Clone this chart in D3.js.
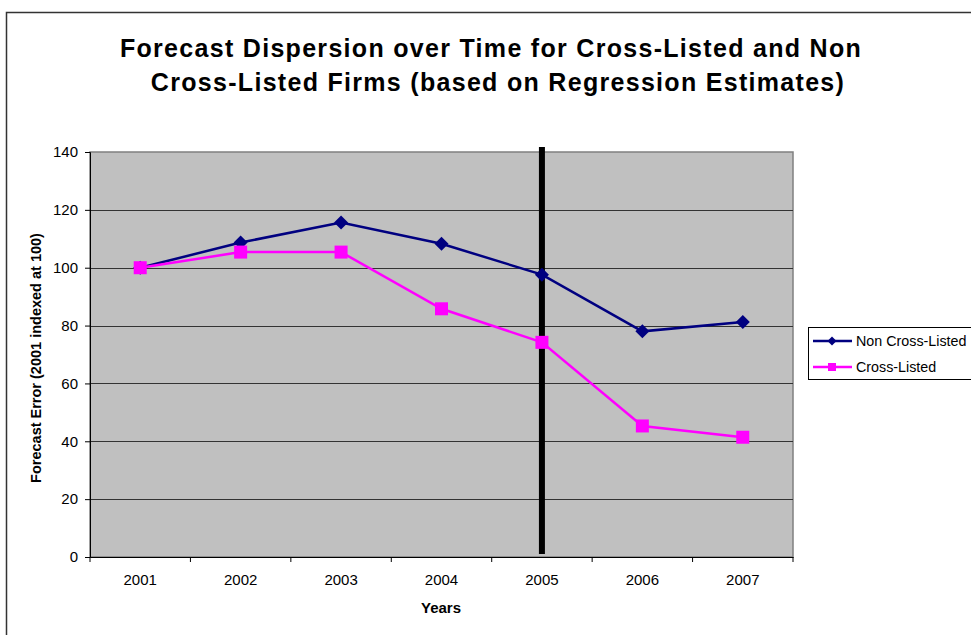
<!DOCTYPE html>
<html>
<head>
<meta charset="utf-8">
<script src="https://cdn.jsdelivr.net/npm/d3@7"></script>
<style>
  body { margin: 0; background: #fff; }
  text { font-family: Arial, "Liberation Sans", sans-serif; }
</style>
</head>
<body>
<svg id="chart" width="971" height="635"></svg>
<script>
// chart data
var years = ['2001', '2002', '2003', '2004', '2005', '2006', '2007'];
var nonCrossListed = [100, 108.7, 115.6, 108.3, 97.6, 78, 81.2];
var crossListed = [100, 105.4, 105.4, 85.8, 74.2, 45.3, 41.4];
var yTicks = [0, 20, 40, 60, 80, 100, 120, 140];
var markerYear = '2005';

const plotLeft = 90, plotRight = 793, plotTop = 152, plotBottom = 557;
const tickFont = '15px';

var svg = d3.select('#chart');

// outer chart frame (runs off the right and bottom edge)
svg.append('rect')
  .attr('x', 6.5).attr('y', 12.5)
  .attr('width', 1000).attr('height', 700)
  .attr('fill', '#fff')
  .attr('stroke', '#333').attr('stroke-width', 1.5);

var x = d3.scaleBand().domain(years).range([plotLeft, plotRight]);
var y = d3.scaleLinear().domain([0, 140]).range([plotBottom, plotTop]);

// plot area
svg.append('rect')
  .attr('x', plotLeft).attr('y', plotTop)
  .attr('width', plotRight - plotLeft).attr('height', plotBottom - plotTop)
  .attr('fill', '#c0c0c0')
  .attr('stroke', '#808080').attr('stroke-width', 1.5);

// gridlines
svg.append('g').selectAll('line')
  .data(yTicks.filter(d => d > 0 && d < 140))
  .join('line')
  .attr('x1', plotLeft).attr('x2', plotRight)
  .attr('y1', d => Math.round(y(d)) + 0.5).attr('y2', d => Math.round(y(d)) + 0.5)
  .attr('stroke', '#333').attr('stroke-width', 1);

// y axis
var yAxis = svg.append('g')
  .attr('transform', 'translate(' + plotLeft + ',0)')
  .call(d3.axisLeft(y).tickValues(yTicks).tickSize(5).tickPadding(7));
yAxis.select('.domain').attr('stroke', '#000');
yAxis.selectAll('.tick line').attr('stroke', '#000');
yAxis.selectAll('text').style('font-size', tickFont).attr('fill', '#000');

// x axis with ticks between categories
var xAxis = svg.append('g')
  .attr('transform', 'translate(0,' + plotBottom + ')')
  .call(d3.axisBottom(x).tickSize(0).tickPadding(17));
xAxis.select('.domain').attr('stroke', '#000');
xAxis.selectAll('text').style('font-size', tickFont).attr('fill', '#000');
xAxis.selectAll('.sep')
  .data(years.map(d => x(d)).concat([plotRight]))
  .join('line')
  .attr('x1', d => d).attr('x2', d => d)
  .attr('y1', 0).attr('y2', 5)
  .attr('stroke', '#000');

// vertical marker line at 2005
var mx = x(markerYear) + x.bandwidth() / 2;
svg.append('line')
  .attr('x1', mx).attr('x2', mx)
  .attr('y1', plotTop - 5).attr('y2', plotBottom - 3)
  .attr('stroke', '#000').attr('stroke-width', 6);

var cx = d => x(d) + x.bandwidth() / 2;
var line = d3.line().x(d => cx(d.year)).y(d => y(d.v));

var series = [
  {name: 'Non Cross-Listed', values: nonCrossListed, color: '#000080', shape: 'diamond'},
  {name: 'Cross-Listed', values: crossListed, color: '#ff00ff', shape: 'square'}
];

function drawMarker(g, shape, color, px, py) {
  if (shape === 'diamond') {
    g.append('path')
      .attr('d', 'M' + px + ',' + (py - 7) + 'L' + (px + 7) + ',' + py +
                 'L' + px + ',' + (py + 7) + 'L' + (px - 7) + ',' + py + 'Z')
      .attr('fill', color);
  } else {
    g.append('rect')
      .attr('x', px - 6.5).attr('y', py - 6.5)
      .attr('width', 13).attr('height', 13)
      .attr('fill', color);
  }
}

series.forEach(function(s) {
  var pts = years.map((yr, i) => ({year: yr, v: s.values[i]}));
  var g = svg.append('g');
  g.append('path')
    .datum(pts)
    .attr('d', line)
    .attr('fill', 'none')
    .attr('stroke', s.color).attr('stroke-width', 2.5);
  pts.forEach(p => drawMarker(g, s.shape, s.color, cx(p.year), y(p.v)));
});

// legend
var legend = svg.append('g');
legend.append('rect')
  .attr('x', 808.5).attr('y', 327.5)
  .attr('width', 200).attr('height', 52)
  .attr('fill', '#fff').attr('stroke', '#000');
series.forEach(function(s, i) {
  var ly = 341 + i * 26;
  legend.append('line')
    .attr('x1', 813).attr('x2', 852).attr('y1', ly).attr('y2', ly)
    .attr('stroke', s.color).attr('stroke-width', 2.5);
  if (s.shape === 'diamond') {
    legend.append('path')
      .attr('d', 'M832,' + (ly - 4.5) + 'L836.5,' + ly + 'L832,' + (ly + 4.5) + 'L827.5,' + ly + 'Z')
      .attr('fill', s.color);
  } else {
    legend.append('rect')
      .attr('x', 828).attr('y', ly - 4).attr('width', 8).attr('height', 8)
      .attr('fill', s.color);
  }
  legend.append('text')
    .attr('x', 856).attr('y', ly + 5)
    .style('font-size', '14.3px')
    .text(s.name);
});

// title
var title = svg.append('text')
  .attr('text-anchor', 'middle')
  .style('font-size', '25px').style('font-weight', 'bold')
  .style('letter-spacing', '1.3px');
title.append('tspan').attr('x', 491).attr('y', 57)
  .text('Forecast Dispersion over Time for Cross-Listed and Non');
title.append('tspan').attr('x', 498).attr('y', 91)
  .text('Cross-Listed Firms (based on Regression Estimates)');

// axis titles
svg.append('text')
  .attr('x', 441).attr('y', 613)
  .attr('text-anchor', 'middle')
  .style('font-size', '15px').style('font-weight', 'bold')
  .text('Years');

svg.append('text')
  .attr('transform', 'translate(41,358) rotate(-90)')
  .attr('text-anchor', 'middle')
  .style('font-size', '14.5px').style('font-weight', 'bold')
  .text('Forecast Error (2001 indexed at 100)');
</script>
</body>
</html>
